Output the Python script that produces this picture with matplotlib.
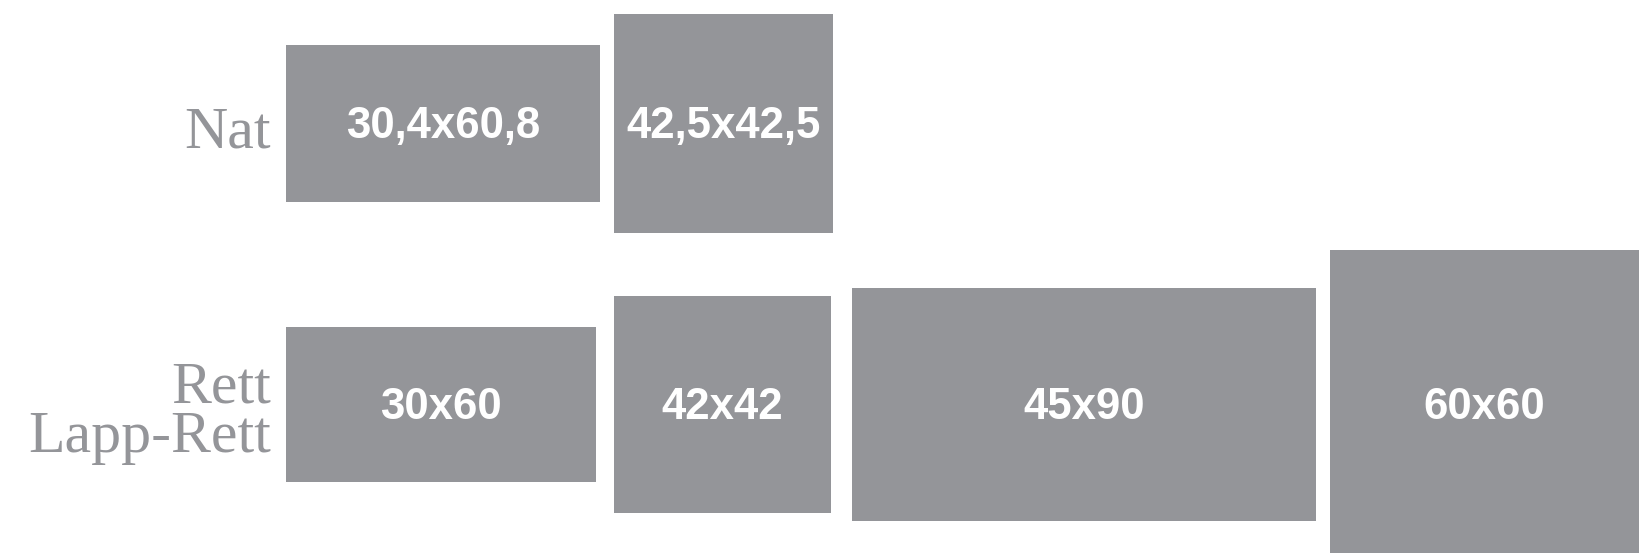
import matplotlib.pyplot as plt

# tile formats (cm), one list per row
ROW_LABELS = ["Nat", "Rett\nLapp-Rett"]
NAT_LABELS = ["30,4x60,8", "42,5x42,5"]
NAT_W = [60.8, 42.5]
NAT_H = [30.4, 42.5]
RETT_LABELS = ["30x60", "42x42", "45x90", "60x60"]
RETT_W = [60, 42, 90, 60]
RETT_H = [30, 42, 45, 60]

GREY = '#949599'
W_PX, H_PX = 1649, 553
SCALE = 5.16  # px per cm
X0 = 286 / SCALE
ROW_CENTERS = [123.5 / SCALE, 404.5 / SCALE]
ROW_GAPS = [[2.7], [3.6, 4.1, 2.6]]  # spacing between tiles, cm
LINE_STEP = 48 / SCALE
BASE_OFF = 23.5 / SCALE

fig = plt.figure(figsize=(W_PX / 100, H_PX / 100), dpi=100)
ax = fig.add_axes([0, 0, 1, 1])
ax.set_xlim(0, W_PX / SCALE)
ax.set_ylim(H_PX / SCALE, 0)
ax.axis('off')

rows = [(NAT_LABELS, NAT_W, NAT_H), (RETT_LABELS, RETT_W, RETT_H)]
for (labels, widths, heights), yc, gaps, name in zip(rows, ROW_CENTERS, ROW_GAPS, ROW_LABELS):
    x = X0
    for i, (lab, w, h) in enumerate(zip(labels, widths, heights)):
        ax.bar(x, h, width=w, bottom=yc - h / 2, align='edge', color=GREY, linewidth=0)
        ax.text(x + w / 2, yc + 0.55, lab, ha='center', va='center', color='white',
                fontsize=31.5, fontweight='bold', family='Liberation Sans')
        if i < len(gaps):
            x += w + gaps[i]

    # row name, right aligned in front of the first tile; va='baseline' uses the last line
    n = name.count('\n') + 1
    yb = yc + BASE_OFF + (n - 1) / 2 * LINE_STEP
    ax.text(271 / SCALE, yb, name, ha='right', va='baseline', multialignment='right',
            linespacing=0.89, color=GREY, fontsize=43, family='Liberation Serif')

fig.savefig('out.png', dpi=100)
